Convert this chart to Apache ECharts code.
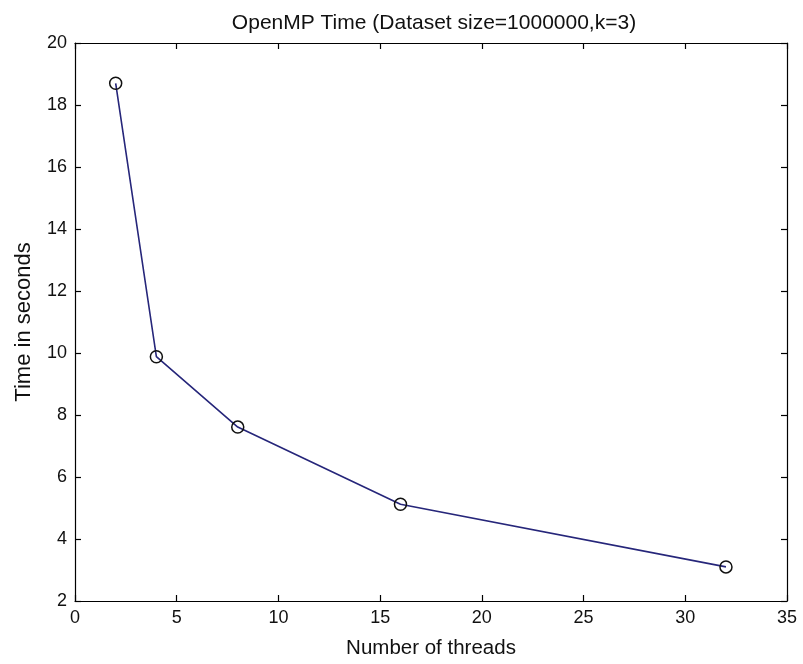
<!DOCTYPE html>
<html>
<head>
<meta charset="utf-8">
<script src="https://cdn.jsdelivr.net/npm/echarts@6/dist/echarts.min.js"></script>
<style>
html,body{margin:0;padding:0;background:#fff;}
#chart{width:803px;height:664px;}
</style>
</head>
<body>
<div id="chart"></div>
<script>
var threads = [2, 4, 8, 16, 32];
var timeSeconds = [18.7, 9.88, 7.61, 5.12, 3.1];
var xTicks = [0, 5, 10, 15, 20, 25, 30, 35];
var yTicks = [2, 4, 6, 8, 10, 12, 14, 16, 18, 20];

var FONT = '"Liberation Sans", Arial, Helvetica, sans-serif';
var points = threads.map(function (t, i) { return [t, timeSeconds[i]]; });

var chart = echarts.init(document.getElementById('chart'), null, {renderer: 'canvas'});
var axisCommon = {
  axisLine: {show: true, onZero: false, lineStyle: {color: '#000', width: 1.2}},
  axisTick: {show: true, inside: true, length: 6, lineStyle: {color: '#000', width: 1.2}},
  splitLine: {show: false}
};
chart.setOption({
  backgroundColor: '#fff',
  animation: false,
  title: {
    text: 'OpenMP Time (Dataset size=1000000,k=3)',
    left: 429, top: 8, textAlign: 'center',
    textStyle: {fontFamily: FONT, fontSize: 21, fontWeight: 'normal', color: '#111'}
  },
  grid: {left: 75, right: 16, top: 43, bottom: 59, containLabel: false},
  xAxis: [
    Object.assign({
      type: 'value', min: xTicks[0], max: xTicks[xTicks.length - 1], interval: 5,
      position: 'bottom',
      name: 'Number of threads', nameLocation: 'middle', nameGap: 37,
      nameTextStyle: {fontFamily: FONT, fontSize: 20.5, color: '#111'},
      axisLabel: {fontFamily: FONT, fontSize: 18, color: '#111', margin: 8}
    }, axisCommon),
    Object.assign({
      type: 'value', min: xTicks[0], max: xTicks[xTicks.length - 1], interval: 5,
      position: 'top', axisLabel: {show: false}
    }, axisCommon)
  ],
  yAxis: [
    Object.assign({
      type: 'value', min: yTicks[0], max: yTicks[yTicks.length - 1], interval: 2,
      position: 'left',
      name: 'Time in seconds', nameLocation: 'middle', nameGap: 40,
      nameTextStyle: {fontFamily: FONT, fontSize: 22, color: '#111'},
      axisLabel: {fontFamily: FONT, fontSize: 18, color: '#111', margin: 8}
    }, axisCommon),
    Object.assign({
      type: 'value', min: yTicks[0], max: yTicks[yTicks.length - 1], interval: 2,
      position: 'right', axisLabel: {show: false}
    }, axisCommon)
  ],
  series: [{
    type: 'line',
    data: points,
    xAxisIndex: 0, yAxisIndex: 0,
    lineStyle: {color: '#26267a', width: 1.6},
    symbol: 'circle', symbolSize: 12, showAllSymbol: true,
    itemStyle: {color: 'rgba(255,255,255,0)', borderColor: '#111', borderWidth: 1.5},
    emphasis: {disabled: true}
  }]
});
</script>
</body>
</html>
